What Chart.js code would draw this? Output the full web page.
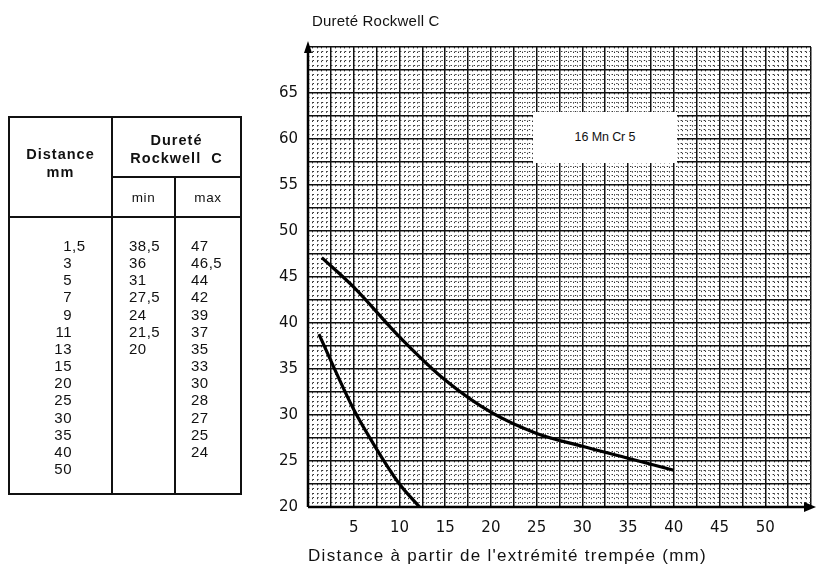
<!DOCTYPE html>
<html>
<head>
<meta charset="utf-8">
<script src="https://cdn.jsdelivr.net/npm/chart.js@4.4.0/dist/chart.umd.min.js"></script>
<style>
    body { margin: 0; background: #fff; font-family: "Liberation Sans", Arial, sans-serif; color: #111; }
    #wrap { position: relative; width: 823px; height: 574px; overflow: hidden; }
    #chart { position: absolute; left: 0; top: 0; }
    #yTitle { position: absolute; left: 312px; top: 13px; font-size: 15px; line-height: 1; letter-spacing: 0.2px; }
    #xTitle { position: absolute; left: 308px; top: 547px; font-size: 17px; line-height: 1; letter-spacing: 1.3px; }
    #steel { position: absolute; left: 533px; top: 112px; width: 144px; height: 51px; background: #fff;
             font-size: 12.5px; line-height: 51px; text-align: center; letter-spacing: -0.1px; }
    #hrcTable { position: absolute; left: 8px; top: 116px; border-collapse: collapse; }
    #hrcTable td { border: 2px solid #111; padding: 0; vertical-align: top; }
    .head { font-weight: bold; font-size: 14.5px; letter-spacing: 1px; text-align: center; line-height: 18px; }
    .sub { font-size: 13.5px; letter-spacing: 0.6px; text-align: center; vertical-align: middle !important; }
    .col { font-size: 15px; letter-spacing: 0.5px; line-height: 17.15px; padding-top: 19px !important; }
    .num { display: block; white-space: pre; }
    .int { display: inline-block; width: 62px; text-align: right; }
</style>
</head>
<body>
<div id="wrap">
    <canvas id="chart" width="823" height="574"></canvas>

    <table id="hrcTable">
        <tr style="height:60px">
            <td class="head" rowspan="2" style="width:101px;vertical-align:middle;padding-bottom:8px">Distance<br>mm</td>
            <td class="head" colspan="2" style="vertical-align:middle;padding-top:4px">Dureté<br>Rockwell&nbsp; C</td>
        </tr>
        <tr style="height:40px">
            <td class="sub" style="width:61px">min</td>
            <td class="sub" style="width:64px">max</td>
        </tr>
        <tr style="height:277px">
            <td class="col" id="colDist"></td>
            <td class="col" id="colMin" style="padding-left:16px;border-right-style:dashed"></td>
            <td class="col" id="colMax" style="padding-left:15px"></td>
        </tr>
    </table>

    <div id="steel">16 Mn Cr 5</div>
    <div id="yTitle">Dureté Rockwell C</div>
    <div id="xTitle">Distance à partir de l'extrémité trempée (mm)</div>
</div>

<script>
// Jominy test values as printed in the table
const distances = [1.5, 3, 5, 7, 9, 11, 13, 15, 20, 25, 30, 35, 40, 50];
const hrcMin = [38.5, 36, 31, 27.5, 24, 21.5, 20];
const hrcMax = [47, 46.5, 44, 42, 39, 37, 35, 33, 30, 28, 27, 25, 24];

// points
const curveMaxX = [1.5, 5, 10, 15, 20, 25, 30, 35, 40];
const curveMaxY = [47.1, 43.9, 38.5, 33.8, 30.3, 28.0, 26.6, 25.3, 24];
const curveMinX = [1.2, 3, 5, 7.5, 10, 12.2];
const curveMinY = [38.8, 34.8, 30.6, 26.3, 22.5, 20];

// tick labels shown on the axes
const xTickLabels = [5, 10, 15, 20, 25, 30, 35, 40, 45, 50];
const yTickLabels = [20, 25, 30, 35, 40, 45, 50, 55, 60, 65];

const fmt = v => String(v).replace('.', ',');

// fill the table from the arrays
document.getElementById('colDist').innerHTML = distances.map(d => {
    const parts = fmt(d).split(',');
    return '<span class="num"><span class="int">' + parts[0] + '</span>' + (parts[1] ? ',' + parts[1] : '') + '</span>';
}).join('');
document.getElementById('colMin').innerHTML = hrcMin.map(v => '<span class="num">' + fmt(v) + '</span>').join('');
document.getElementById('colMax').innerHTML = hrcMax.map(v => '<span class="num">' + fmt(v) + '</span>').join('');

const toPoints = (xs, ys) => ys.map((y, i) => ({ x: xs[i], y: y }));

const isMajor = (v) => Math.abs(v / 2.5 - Math.round(v / 2.5)) < 1e-6;

function gridOpts() {
    return {
        drawTicks: false,
        color: (c) => (c.tick && isMajor(c.tick.value)) ? '#111' : '#333',
        lineWidth: (c) => (c.tick && isMajor(c.tick.value)) ? 1.5 : 1
    };
}

function borderOpts() {
    return {
        display: false,
        dash: (c) => (c.tick && !isMajor(c.tick.value)) ? [1.4, 3.2] : []
    };
}

// axis lines with arrow heads
const axisArrows = {
    id: 'axisArrows',
    afterDatasetsDraw(chart) {
        const { ctx, chartArea: a } = chart;
        ctx.save();
        ctx.strokeStyle = '#000';
        ctx.fillStyle = '#000';
        ctx.lineWidth = 2.5;
        ctx.beginPath();
        ctx.moveTo(a.left, a.bottom);
        ctx.lineTo(a.left, a.top);
        ctx.moveTo(a.left, a.bottom);
        ctx.lineTo(a.right - 4, a.bottom);
        ctx.stroke();
        ctx.beginPath();
        ctx.moveTo(a.left, a.top - 6);
        ctx.lineTo(a.left - 4, a.top + 6);
        ctx.lineTo(a.left + 4, a.top + 6);
        ctx.fill();
        ctx.beginPath();
        ctx.moveTo(a.right + 5, a.bottom);
        ctx.lineTo(a.right - 7, a.bottom - 5);
        ctx.lineTo(a.right - 7, a.bottom + 5);
        ctx.fill();
        ctx.restore();
    }
};

const tickFont = { family: '"DejaVu Sans", "Liberation Sans", sans-serif', size: 15 };

new Chart(document.getElementById('chart'), {
    type: 'line',
    data: {
        datasets: [
            {
                label: 'max',
                data: toPoints(curveMaxX, curveMaxY),
                borderColor: '#000',
                borderWidth: 3.2,
                pointRadius: 0,
                cubicInterpolationMode: 'monotone',
                fill: false
            },
            {
                label: 'min',
                data: toPoints(curveMinX, curveMinY),
                borderColor: '#000',
                borderWidth: 3.2,
                pointRadius: 0,
                cubicInterpolationMode: 'monotone',
                fill: false
            }
        ]
    },
    options: {
        responsive: false,
        animation: false,
        layout: { padding: { left: 0, right: 5, top: 47, bottom: 0 } },
        plugins: {
            legend: { display: false },
            title: { display: false },
            tooltip: { enabled: false }
        },
        scales: {
            x: {
                type: 'linear',
                min: 0,
                max: 55,
                grid: gridOpts(),
                border: borderOpts(),
                afterFit: (s) => { s.height = 67; },
                ticks: {
                    stepSize: 0.5,
                    autoSkip: false,
                    maxRotation: 0,
                    padding: 12,
                    color: '#111',
                    font: tickFont,
                    callback: (v) => xTickLabels.includes(v) ? String(v) : ''
                }
            },
            y: {
                type: 'linear',
                min: 20,
                max: 70,
                grid: gridOpts(),
                border: borderOpts(),
                afterFit: (s) => { s.width = 308; },
                ticks: {
                    stepSize: 0.5,
                    autoSkip: false,
                    padding: 10,
                    color: '#111',
                    font: tickFont,
                    callback: (v) => yTickLabels.includes(v) ? String(v) : ''
                }
            }
        }
    },
    plugins: [axisArrows]
});
</script>
</body>
</html>
